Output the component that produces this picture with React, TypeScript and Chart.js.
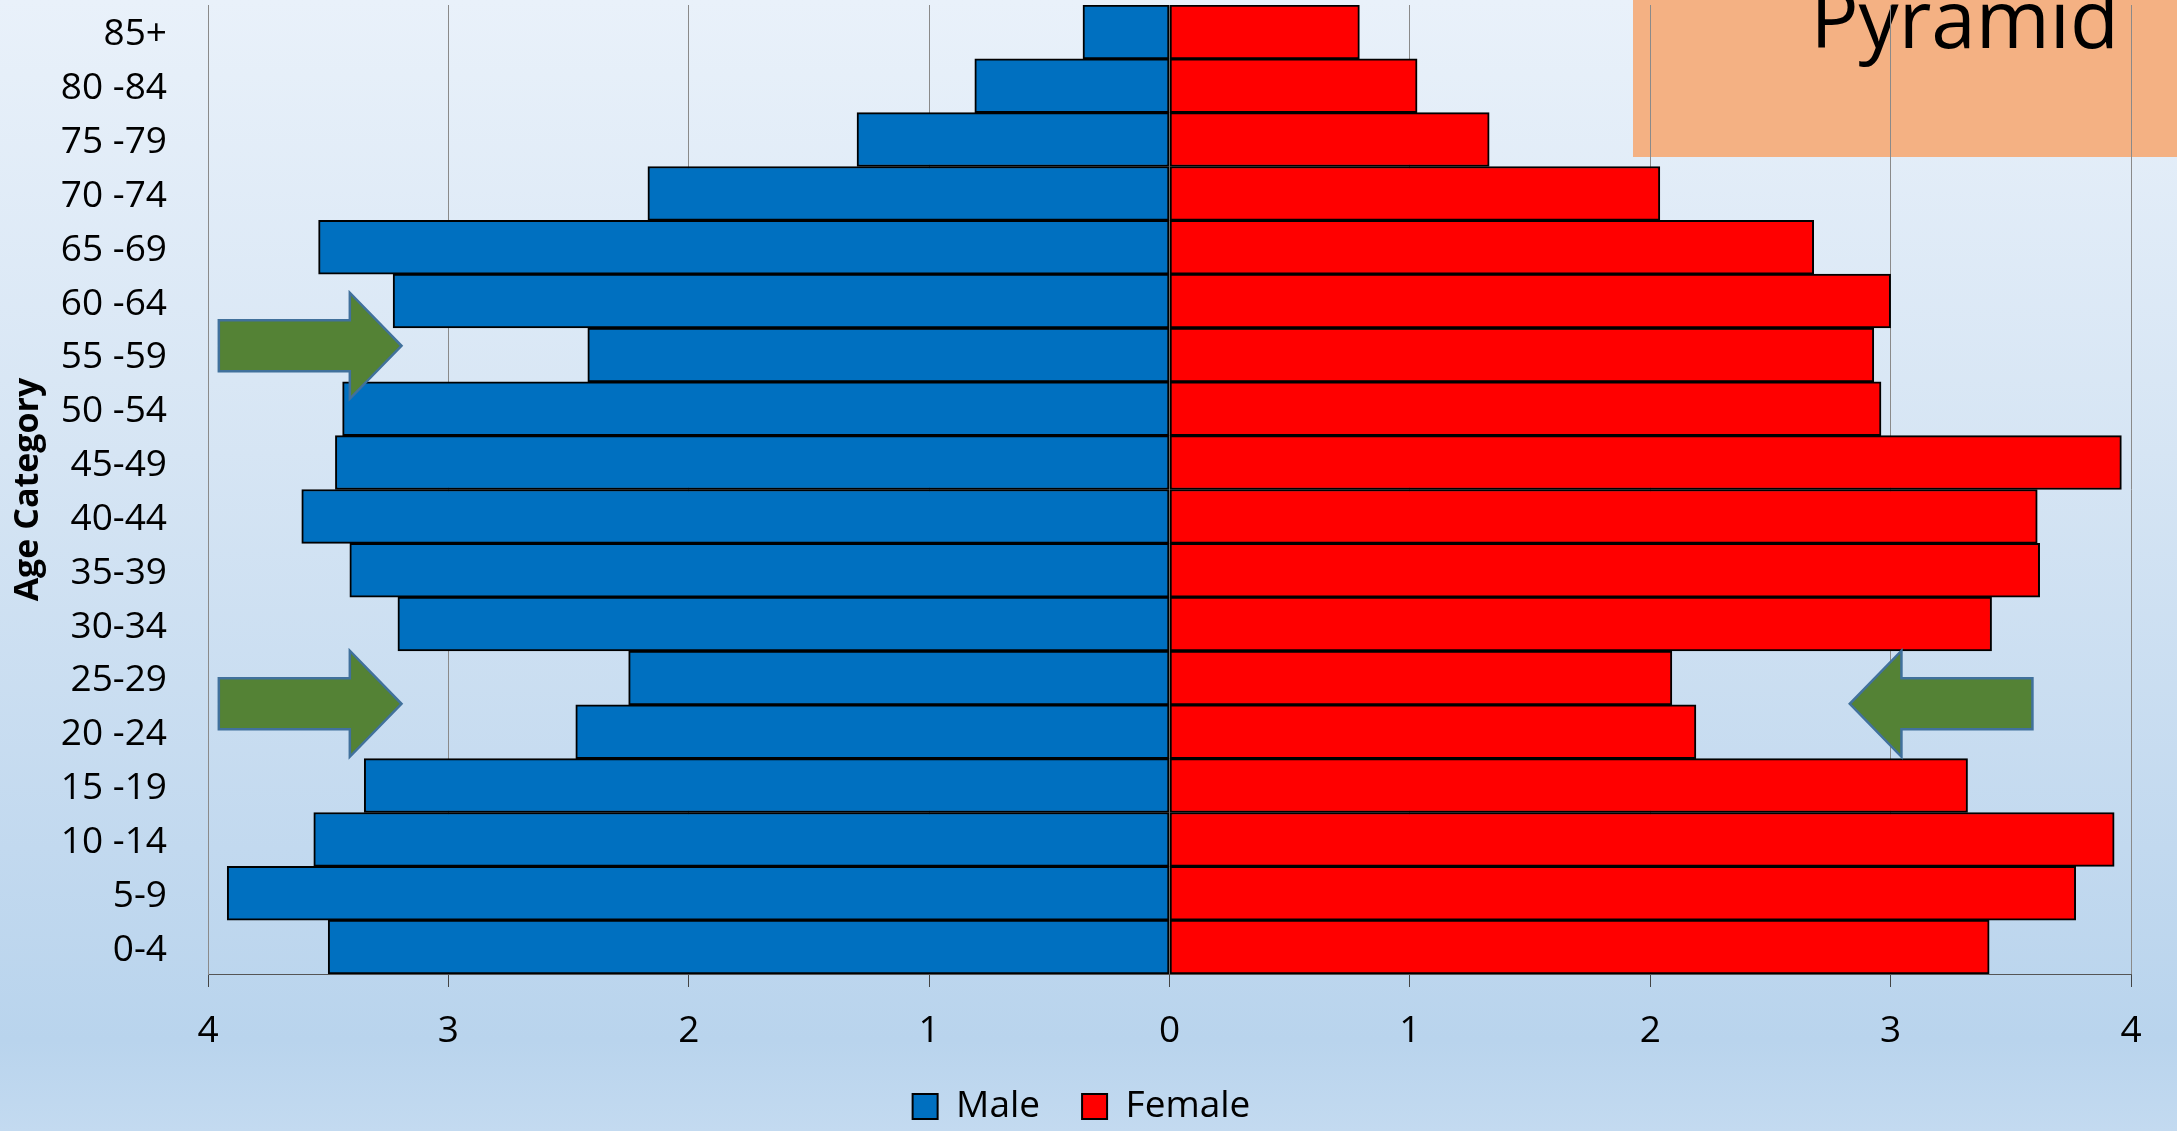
import React, { useEffect, useRef } from "react";
import { Chart, registerables } from "chart.js";

Chart.register(...registerables);

// ---- data ----
const AGE_GROUPS = [
  "85+", "80 -84", "75 -79", "70 -74", "65 -69", "60 -64", "55 -59", "50 -54",
  "45-49", "40-44", "35-39", "30-34", "25-29", "20 -24", "15 -19", "10 -14", "5-9", "0-4",
];
const MALE = [0.36, 0.81, 1.30, 2.17, 3.54, 3.23, 2.42, 3.44, 3.47, 3.61, 3.41, 3.21, 2.25, 2.47, 3.35, 3.56, 3.92, 3.50];
const FEMALE = [0.79, 1.03, 1.33, 2.04, 2.68, 3.00, 2.93, 2.96, 3.96, 3.61, 3.62, 3.42, 2.09, 2.19, 3.32, 3.93, 3.77, 3.41];
const X_MIN = -4;
const X_MAX = 4;
const X_STEP = 1;

// ---- annotations (arrows in value / row units) ----
const ARROWS = [
  { from: -3.955, to: -3.195, headBase: -3.41, row: 5.83 },
  { from: -3.955, to: -3.195, headBase: -3.41, row: 12.48 },
  { from: 3.59, to: 2.83, headBase: 3.045, row: 12.48 },
];
const ARROW_BODY_HALF = 0.474; // in rows
const ARROW_HEAD_HALF = 0.985; // in rows

const FONT = "'Open Sans', 'DejaVu Sans', sans-serif";

const decorPlugin = {
  id: "decor",
  beforeDraw(chart: any) {
    const ctx = chart.ctx;
    ctx.save();
    ctx.fillStyle = "#f4b183";
    ctx.fillRect(1633, 0, chart.width - 1633, 157);
    ctx.fillStyle = "#000";
    ctx.font = `80px ${FONT}`;
    ctx.textAlign = "right";
    ctx.textBaseline = "alphabetic";
    ctx.fillText("Pyramid", 2119, 48);
    ctx.restore();
  },
  afterLayout(chart: any) {
    if (chart.legend) {
      chart.legend.left += 16;
      chart.legend.right += 16;
      chart.legend.top += 4;
      chart.legend.bottom += 4;
    }
  },
  afterDatasetsDraw(chart: any) {
    const ctx = chart.ctx;
    const xs = chart.scales.x;
    const ys = chart.scales.y;
    const y0 = ys.getPixelForValue(0);
    const rowPx = ys.getPixelForValue(1) - y0;
    ctx.save();
    ARROWS.forEach((a) => {
      const yc = y0 + a.row * rowPx;
      const bh = ARROW_BODY_HALF * rowPx;
      const hh = ARROW_HEAD_HALF * rowPx;
      const xf = xs.getPixelForValue(a.from);
      const xt = xs.getPixelForValue(a.to);
      const xb = xs.getPixelForValue(a.headBase);
      ctx.beginPath();
      ctx.moveTo(xf, yc - bh);
      ctx.lineTo(xb, yc - bh);
      ctx.lineTo(xb, yc - hh);
      ctx.lineTo(xt, yc);
      ctx.lineTo(xb, yc + hh);
      ctx.lineTo(xb, yc + bh);
      ctx.lineTo(xf, yc + bh);
      ctx.closePath();
      ctx.fillStyle = "#548235";
      ctx.fill();
      ctx.lineWidth = 2.5;
      ctx.strokeStyle = "#41719c";
      ctx.lineJoin = "miter";
      ctx.stroke();
    });
    ctx.restore();
  },
};

export default function App() {
  const canvasRef = useRef<HTMLCanvasElement | null>(null);

  useEffect(() => {
    document.body.style.margin = "0";
    const canvas = canvasRef.current;
    if (!canvas) return;
    const chart = new Chart(canvas, {
      type: "bar",
      data: {
        labels: AGE_GROUPS,
        datasets: [
          {
            label: "Male",
            data: MALE.map((v) => -v),
            backgroundColor: "#0070c0",
            borderColor: "#000",
            borderWidth: 2,
            borderSkipped: false,
            barPercentage: 1,
            categoryPercentage: 1,
          },
          {
            label: "Female",
            data: FEMALE,
            backgroundColor: "#ff0000",
            borderColor: "#000",
            borderWidth: 2,
            borderSkipped: false,
            barPercentage: 1,
            categoryPercentage: 1,
          },
        ],
      },
      options: {
        indexAxis: "y",
        responsive: false,
        animation: false,
        devicePixelRatio: 1,
        layout: { padding: { top: 5, right: 46, left: 0, bottom: 0 } },
        font: { family: FONT },
        plugins: {
          tooltip: { enabled: false },
          legend: {
            position: "bottom",
            labels: {
              boxWidth: 25,
              boxHeight: 25,
              padding: 42,
              color: "#000",
              font: { size: 37, family: FONT },
            },
          },
        },
        scales: {
          x: {
            type: "linear",
            stacked: true,
            min: X_MIN,
            max: X_MAX,
            ticks: {
              stepSize: X_STEP,
              color: "#000",
              padding: 22,
              font: { size: 37, family: FONT },
              callback: (v: any) => String(Math.abs(Number(v))),
            },
            grid: {
              color: "#8a8a8a",
              lineWidth: 1,
              tickLength: 13,
              tickColor: "#444",
              drawTicks: true,
            },
            border: { display: true, color: "#555", width: 1 },
            afterFit: (s: any) => {
              s.height = 68;
              s.paddingLeft = 0;
              s.paddingRight = 0;
            },
          },
          y: {
            type: "category",
            stacked: true,
            grid: { display: false, drawTicks: false },
            border: { display: true, color: "#8a8a8a", width: 1 },
            ticks: {
              color: "#000",
              padding: 41,
              labelOffset: 3,
              font: { size: 37, family: FONT },
            },
            title: {
              display: true,
              text: "Age Category",
              color: "#000",
              font: { size: 34, weight: "bold", family: FONT },
              padding: { top: 8, bottom: 0 },
            },
            afterFit: (s: any) => {
              s.width = 208;
              s.paddingTop = 0;
              s.paddingBottom = 0;
            },
          },
        },
      },
      plugins: [decorPlugin],
    } as any);
    return () => chart.destroy();
  }, []);

  return (
    <div
      style={{
        width: 2177,
        height: 1131,
        background:
          "linear-gradient(to bottom, #e9f1fa 0%, #d6e5f4 40%, #c2d9ef 75%, #b9d4ed 92%, #c3daf0 100%)",
      }}
    >
      <canvas ref={canvasRef} width={2177} height={1131} style={{ display: "block" }} />
    </div>
  );
}
